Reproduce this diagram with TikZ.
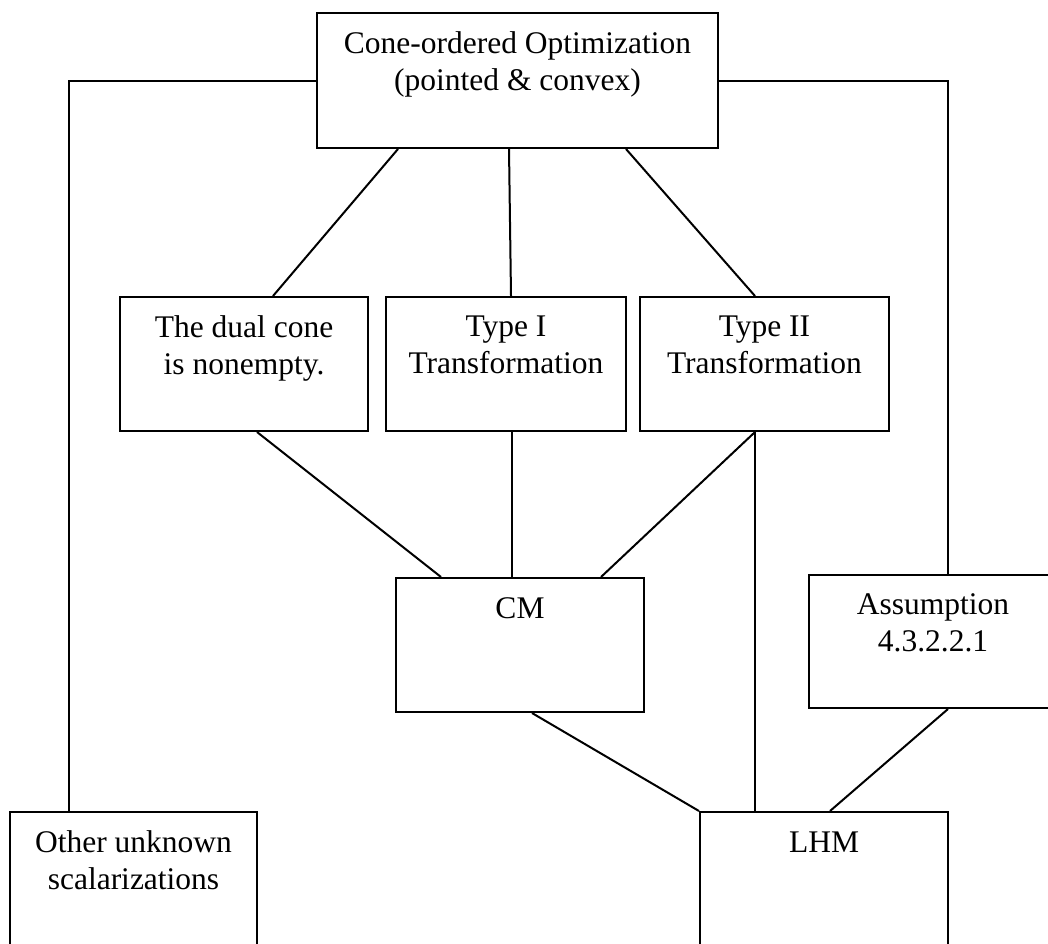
\documentclass[tikz,border=0pt]{standalone}
\usepackage{fontspec}
\setmainfont{Liberation Serif}
\usetikzlibrary{positioning}
\tikzset{
  box/.style={draw, line width=2pt, minimum width=248pt, minimum height=134pt, inner sep=0pt},
  txt/.style={align=center, inner sep=0pt, anchor=north, font=\fontsize{31.5}{37}\selectfont},
  link/.style={line width=2pt}
}
\begin{document}
\begin{tikzpicture}[x=1pt,y=-1pt]
\useasboundingbox (0,0) rectangle (1048,943);
\clip (0,0) rectangle (1048,943);

\node[box, minimum width=401pt, minimum height=135pt] (top) at (517.5,80.5) {};
\node[box] (dual) at (244,364) {};
\node[box, minimum width=240pt] (type1) at (506,364) {};
\node[box, minimum width=249pt] (type2) at (764.5,364) {};
\node[box] (cm) at (520,645) {};
\node[box, minimum width=278pt, minimum height=133pt] (assum) at (948,641.5) {};
\node[box, minimum width=247pt] (other) at (133.5,879) {};
\node[box] (lhm) at (824,879) {};

\node[txt, below=19.5pt of top.north] (top-t) {Cone-ordered Optimization\\(pointed \& convex)};
\node[txt, below=19.5pt of dual.north] (dual-t) {The dual cone\\is nonempty.};
\node[txt, below=19.5pt of type1.north] (type1-t) {Type I\\Transformation};
\node[txt, below=19.5pt of type2.north] (type2-t) {Type II\\Transformation};
\node[txt, below=20.5pt of cm.north] (cm-t) {CM};
\node[txt, below=19.5pt of assum.north, xshift=-15pt] (assum-t) {Assumption\\4.3.2.2.1};
\node[txt, below=19.5pt of other.north] (other-t) {Other unknown\\scalarizations};
\node[txt, below=20.5pt of lhm.north] (lhm-t) {LHM};

\draw[link] (top.west) -| ([xshift=60pt]other.north west);
\draw[link] (top.east) -| (assum.north);
\draw[link] ([xshift=82pt]top.south west) -- ([xshift=154pt]dual.north west);
\draw[link] ([xshift=193pt]top.south west) -- ([xshift=126pt]type1.north west);
\draw[link] ([xshift=310pt]top.south west) -- ([xshift=116pt]type2.north west);
\draw[link] ([xshift=138pt]dual.south west) -- ([xshift=46pt]cm.north west);
\draw[link] ([xshift=127pt]type1.south west) -- ([xshift=117pt]cm.north west);
\draw[link] ([xshift=116pt]type2.south west) -- ([xshift=206pt]cm.north west);
\draw[link] ([xshift=116pt]type2.south west) -- ([xshift=56pt]lhm.north west);
\draw[link] ([xshift=137pt]cm.south west) -- (lhm.north west);
\draw[link] (assum.south) -- ([xshift=131pt]lhm.north west);
\end{tikzpicture}
\end{document}
